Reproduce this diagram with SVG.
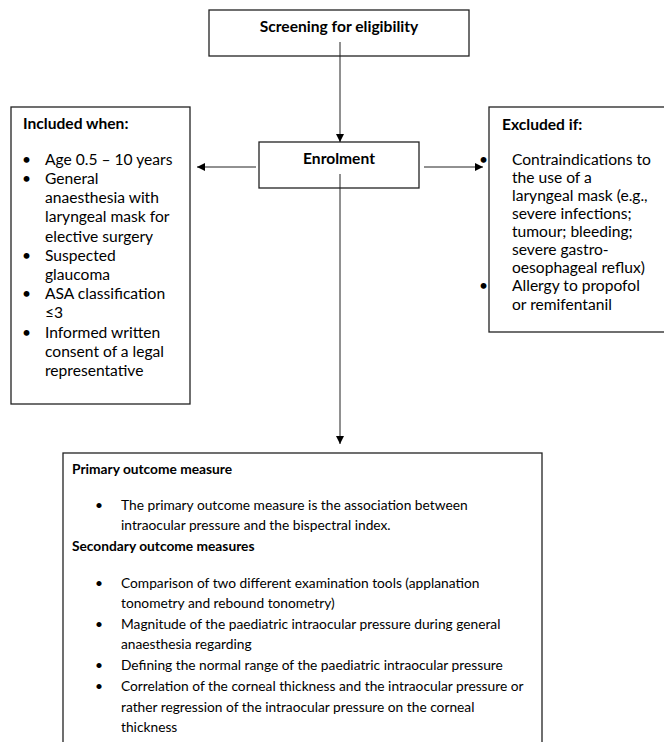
<svg xmlns="http://www.w3.org/2000/svg" width="664" height="742" viewBox="0 0 664 742">
<style>
.box{fill:#fff;stroke:#222;stroke-width:1.3}
.t{font-family:Lato,"Liberation Sans",sans-serif;font-size:15.6px;fill:#000}
.s{font-size:13.75px}
.b{font-weight:bold}
.ln{stroke:#222;stroke-width:1;fill:none}
</style>
<defs>
<marker id="ah" viewBox="0 0 10 10" refX="10" refY="5" markerWidth="8" markerHeight="8" markerUnits="userSpaceOnUse" orient="auto">
<path d="M0,0 L10,5 L0,10 z" fill="#000"/>
</marker>
</defs>
<g id="screening">
<rect class="box" x="209" y="10" width="260" height="46"/>
<text class="t b" x="339" y="32" text-anchor="middle">Screening for eligibility</text>
</g>
<g id="enrolment">
<rect class="box" x="259" y="142" width="160" height="46"/>
<text class="t b" x="339" y="164" text-anchor="middle">Enrolment</text>
</g>
<g id="included">
<rect class="box" x="11" y="107" width="179" height="297"/>
<text class="t b" x="23" y="129">Included when:</text>
<g class="t">
<text x="22" y="165">•</text><text x="45" y="165">Age 0.5 – 10 years</text>
<text x="22" y="184">•</text><text x="45" y="184">General</text>
<text x="45" y="203">anaesthesia with</text>
<text x="45" y="222">laryngeal mask for</text>
<text x="45" y="242">elective surgery</text>
<text x="22" y="261">•</text><text x="45" y="261">Suspected</text>
<text x="45" y="280">glaucoma</text>
<text x="22" y="299">•</text><text x="45" y="299">ASA classification</text>
<text x="45" y="318">≤3</text>
<text x="22" y="338">•</text><text x="45" y="338">Informed written</text>
<text x="45" y="357">consent of a legal</text>
<text x="45" y="376">representative</text>
</g>
</g>
<g id="excluded">
<rect class="box" x="489" y="107" width="180" height="225"/>
<text class="t b" x="502" y="130">Excluded if:</text>
<g class="t">
<text x="479" y="165">•</text><text x="512" y="165">Contraindications to</text>
<text x="512" y="183">the use of a</text>
<text x="512" y="201">laryngeal mask (e.g.,</text>
<text x="512" y="219">severe infections;</text>
<text x="512" y="237">tumour; bleeding;</text>
<text x="512" y="255">severe gastro-</text>
<text x="512" y="273">oesophageal reflux)</text>
<text x="479" y="291">•</text><text x="512" y="291">Allergy to propofol</text>
<text x="512" y="310">or remifentanil</text>
</g>
</g>
<g id="outcomes">
<rect class="box" x="63" y="453" width="479" height="300"/>
<g class="t s">
<text class="b" x="72" y="474">Primary outcome measure</text>
<text x="95" y="510">•</text><text x="121" y="510">The primary outcome measure is the association between</text>
<text x="121" y="530">intraocular pressure and the bispectral index.</text>
<text class="b" x="72" y="551">Secondary outcome measures</text>
<text x="95" y="588">•</text><text x="121" y="588">Comparison of two different examination tools (applanation</text>
<text x="121" y="608">tonometry and rebound tonometry)</text>
<text x="95" y="629">•</text><text x="121" y="629">Magnitude of the paediatric intraocular pressure during general</text>
<text x="121" y="649">anaesthesia regarding</text>
<text x="95" y="670">•</text><text x="121" y="670">Defining the normal range of the paediatric intraocular pressure</text>
<text x="95" y="691">•</text><text x="121" y="691">Correlation of the corneal thickness and the intraocular pressure or</text>
<text x="121" y="712">rather regression of the intraocular pressure on the corneal</text>
<text x="121" y="732">thickness</text>
</g>
</g>
<g id="connectors">
<line class="ln" x1="340" y1="42" x2="340" y2="142" marker-end="url(#ah)"/>
<line class="ln" x1="256" y1="167" x2="197" y2="167" marker-end="url(#ah)"/>
<line class="ln" x1="424" y1="167" x2="483" y2="167" marker-end="url(#ah)"/>
<line class="ln" x1="340" y1="174" x2="340" y2="444" marker-end="url(#ah)"/>
</g>
</svg>
